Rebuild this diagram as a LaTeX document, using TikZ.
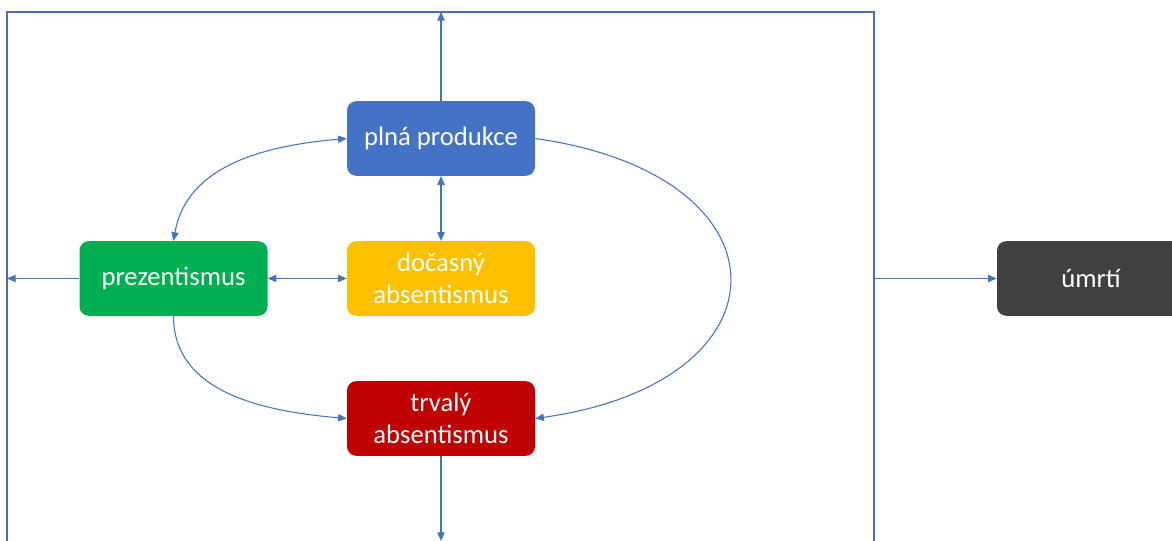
\documentclass[tikz,border=0pt]{standalone}
\usepackage{fontspec}
\setmainfont{Carlito}
\definecolor{boxblue}{RGB}{68,114,196}
\definecolor{boxgreen}{RGB}{0,176,80}
\definecolor{boxgold}{RGB}{255,192,0}
\definecolor{boxred}{RGB}{192,0,0}
\definecolor{boxgrey}{RGB}{64,64,64}
\definecolor{linkblue}{RGB}{68,114,196}
\definecolor{framecol}{RGB}{79,110,176}
\usetikzlibrary{arrows.meta}

\begin{document}
\begin{tikzpicture}[x=0.75pt, y=0.75pt,
    box/.style={rounded corners=7pt, minimum width=141pt, minimum height=56pt, align=center, text=white, font=\fontsize{20}{24}\selectfont, inner sep=2pt},
    link/.style={draw=linkblue, line width=0.8pt},
    >={Triangle[length=6.5pt,width=5.5pt]}
]
  \useasboundingbox (0,0) rectangle (1172,-541);

  % frame (open at the bottom)
  \draw[framecol, line width=1.1pt] (7,-545) -- (7,-12) -- (874,-12) -- (874,-545);
  \coordinate (ftop) at (441,-12);
  \coordinate (fleft) at (7,-278.5);
  \coordinate (fright) at (874,-278.5);
  \coordinate (fbot) at (441,-541);

  \node[box, fill=boxblue] (plna) at (441,-138.5) {plná produkce};
  \node[box, fill=boxgreen] (prez) at (173.5,-278.5) {prezentismus};
  \node[box, fill=boxgold] (docasny) at (441,-278.5) {dočasný\\absentismus};
  \node[box, fill=boxred] (trvaly) at (441,-418.5) {trvalý\\absentismus};
  \node[box, fill=boxgrey] (umrti) at (1091,-278.5) {úmrtí};

  \draw[link, ->] (plna) -- (ftop);
  \draw[link, <->] (plna) -- (docasny);
  \draw[link, <->] (prez) -- (docasny);
  \draw[link, ->] (prez) -- (fleft);
  \draw[link, ->] (trvaly) -- (fbot);
  \draw[link, ->] (fright) -- (umrti);

  \draw[link, <->] (plna.west) to[out=185, in=80] (prez.north);
  \draw[link, ->] (prez.south) to[out=-90, in=175] (trvaly.west);
  \draw[link, ->] (plna.east) to[out=-8, in=8, looseness=2.4] (trvaly.east);
\end{tikzpicture}
\end{document}
